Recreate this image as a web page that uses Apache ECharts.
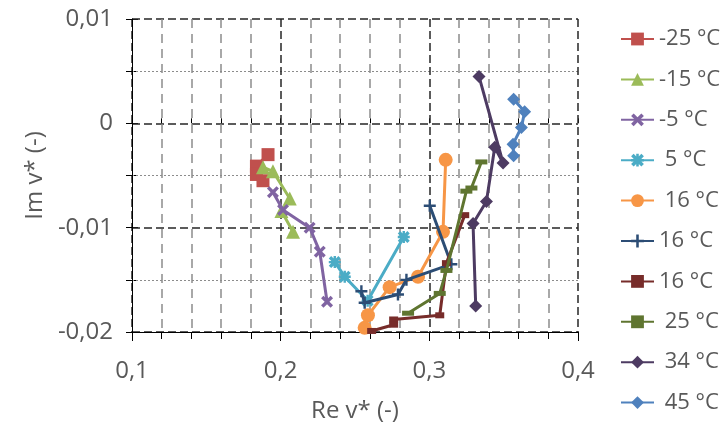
<!DOCTYPE html>
<html>
<head>
<meta charset="utf-8">
<script src="https://cdn.jsdelivr.net/npm/echarts@6/dist/echarts.min.js"></script>
<style>
html,body{margin:0;padding:0;background:#fff;}
#c{width:721px;height:428px;}
</style>
</head>
<body>
<div id="c"></div>
<script>
// ---- data ----
const seriesNames = ['-25 °C', '-15 °C', '-5 °C', ' 5 °C', ' 16 °C', '16 °C', '16 °C\u00a0', ' 25 °C', ' 34 °C', ' 45 °C'];

const re_m25 = [0.1915, 0.1837, 0.1837, 0.1881];
const im_m25 = [-0.0030, -0.0041, -0.0049, -0.0055];

const re_m15 = [0.1881, 0.1948, 0.2061, 0.2005, 0.2083];
const im_m15 = [-0.0042, -0.0046, -0.0072, -0.0084, -0.0104];

const re_m5 = [0.1948, 0.2016, 0.2195, 0.2263, 0.2312];
const im_m5 = [-0.0066, -0.0083, -0.0100, -0.0123, -0.0171];

const re_p5 = [0.2364, 0.2431, 0.2585, 0.2828];
const im_p5 = [-0.0133, -0.0147, -0.0170, -0.0109];

const re_16a = [0.3110, 0.3092, 0.2924, 0.2733, 0.2587, 0.2565];
const im_16a = [-0.0035, -0.0104, -0.0147, -0.0157, -0.0184, -0.0196];

const re_16b = [0.2543, 0.2565, 0.2789, 0.2846, 0.3148, 0.3003];
const im_16b = [-0.0161, -0.0172, -0.0164, -0.0150, -0.0135, -0.0079];

const re_16c = [0.3238, 0.3115, 0.3070, 0.2760, 0.2760, 0.2612];
const im_16c = [-0.0088, -0.0134, -0.0184, -0.0188, -0.0193, -0.0199];

const re_25 = [0.2857, 0.3070, 0.3115, 0.3249, 0.3283, 0.3350];
const im_25 = [-0.0182, -0.0163, -0.0141, -0.0065, -0.0062, -0.0037];

const re_34 = [0.3334, 0.3496, 0.3440, 0.3384, 0.3294, 0.3312];
const im_34 = [0.0045, -0.0038, -0.0023, -0.0075, -0.0096, -0.0175];

const re_45 = [0.3567, 0.3641, 0.3619, 0.3563, 0.3567];
const im_45 = [0.0023, 0.0011, -0.0004, -0.0020, -0.0031];

const xMin = 0.1, xMax = 0.4, xStep = 0.1;
const yMin = -0.02, yMax = 0.01, yStep = 0.01;

// ---- styling ----
const colors = ['#C0504D', '#9BBB59', '#8064A2', '#4BACC6', '#F79646', '#2C4D75', '#772C2A', '#5F7530', '#4D3B62', '#4F81BD'];
const SYM_X = 'path://M2,0 L5,3 L8,0 L10,2 L7,5 L10,8 L8,10 L5,7 L2,10 L0,8 L3,5 L0,2 Z';
const SYM_PLUS = 'path://M4,0 L6,0 L6,4 L10,4 L10,6 L6,6 L6,10 L4,10 L4,6 L0,6 L0,4 L4,4 Z';
const SYM_STAR = 'path://M2,0 L5,3 L8,0 L10,2 L7,5 L10,8 L8,10 L5,7 L2,10 L0,8 L3,5 L0,2 Z M4,0 L6,0 L6,10 L4,10 Z M0,4 L10,4 L10,6 L0,6 Z';
const symbols = ['rect', 'triangle', SYM_X, SYM_STAR, 'circle', SYM_PLUS, 'rect', 'rect', 'diamond', 'diamond'];
const symbolSizes = [13, 14, 12, 12, 14, 12, [9, 6], [12, 5], 13, 13];
const FONT = 'Open Sans';
const TXT = '#595959';

const xs = [re_m25, re_m15, re_m5, re_p5, re_16a, re_16b, re_16c, re_25, re_34, re_45];
const ys = [im_m25, im_m15, im_m5, im_p5, im_16a, im_16b, im_16c, im_25, im_34, im_45];

function fmt(v) {
  const r = Math.round(v * 10000) / 10000;
  return (r === 0 ? '0' : String(r)).replace('.', ',');
}

const series = seriesNames.map((name, i) => ({
  name: name,
  type: 'line',
  xAxisIndex: 0,
  yAxisIndex: 0,
  data: xs[i].map((x, k) => [x, ys[i][k]]),
  symbol: symbols[i],
  symbolSize: symbolSizes[i],
  showAllSymbol: true,
  lineStyle: { color: colors[i], width: 3 },
  itemStyle: { color: colors[i], borderWidth: 0 },
  emphasis: { disabled: true },
  z: 10 + i
}));

const chart = echarts.init(document.getElementById('c'), null, { renderer: 'canvas' });
chart.setOption({
  animation: false,
  backgroundColor: '#ffffff',
  textStyle: { fontFamily: FONT },
  grid: { left: 132, right: 143, top: 19, bottom: 94, containLabel: false },
  legend: {
    orient: 'vertical',
    left: 620,
    top: 28,
    padding: 0,
    itemWidth: 33,
    itemHeight: 16,
    itemGap: 18.4,
    data: seriesNames,
    textStyle: { fontFamily: FONT, fontSize: 22, color: TXT, lineHeight: 22 },
    selectedMode: false
  },
  xAxis: [{
    type: 'value', min: xMin, max: xMax, interval: xStep,
    name: 'Re v* (-)', nameLocation: 'middle', nameGap: 67,
    nameTextStyle: { fontFamily: FONT, fontSize: 24, color: TXT },
    axisLine: { show: true, onZero: false, lineStyle: { color: '#000', width: 1 } },
    axisTick: { show: true, inside: false, length: 9, lineStyle: { color: '#000', width: 1 } },
    minorTick: { show: true, splitNumber: 5, length: 7, lineStyle: { color: '#000', width: 1 } },
    axisLabel: { formatter: fmt, fontFamily: FONT, fontSize: 24, color: TXT, margin: 27 },
    splitLine: { show: true, lineStyle: { color: '#262626', width: 1.5, type: [8, 4] } },
    minorSplitLine: { show: true, lineStyle: { color: '#8c8c8c', width: 1.5, type: [9, 6] } },
    z: 5
  }, {
    type: 'value', min: xMin, max: xMax, interval: xStep, position: 'bottom',
    axisLine: { show: false },
    axisTick: { show: true, inside: true, length: 5, lineStyle: { color: '#000', width: 1 } },
    minorTick: { show: true, splitNumber: 5, length: 5, lineStyle: { color: '#000', width: 1 } },
    axisLabel: { show: false },
    splitLine: { show: false }
  }],
  yAxis: [{
    type: 'value', min: yMin, max: yMax, interval: yStep,
    name: 'Im v* (-)', nameLocation: 'middle', nameGap: 79, nameRotate: 90,
    nameTextStyle: { fontFamily: FONT, fontSize: 24, color: TXT },
    axisLine: { show: true, onZero: false, lineStyle: { color: '#000', width: 1 } },
    axisTick: { show: true, inside: false, length: 6, lineStyle: { color: '#000', width: 1 } },
    minorTick: { show: true, splitNumber: 2, length: 6, lineStyle: { color: '#000', width: 1 } },
    axisLabel: { formatter: fmt, fontFamily: FONT, fontSize: 24, color: TXT, margin: 19 },
    splitLine: { show: true, lineStyle: { color: '#262626', width: 1.5, type: [8, 4] } },
    minorSplitLine: { show: true, lineStyle: { color: '#8c8c8c', width: 1, type: [2, 2] } },
    z: 5
  }, {
    type: 'value', min: yMin, max: yMax, interval: yStep, position: 'left',
    axisLine: { show: false },
    axisTick: { show: true, inside: true, length: 6, lineStyle: { color: '#000', width: 1 } },
    minorTick: { show: true, splitNumber: 2, length: 6, lineStyle: { color: '#000', width: 1 } },
    axisLabel: { show: false },
    splitLine: { show: false }
  }],
  series: series
});
</script>
</body>
</html>
